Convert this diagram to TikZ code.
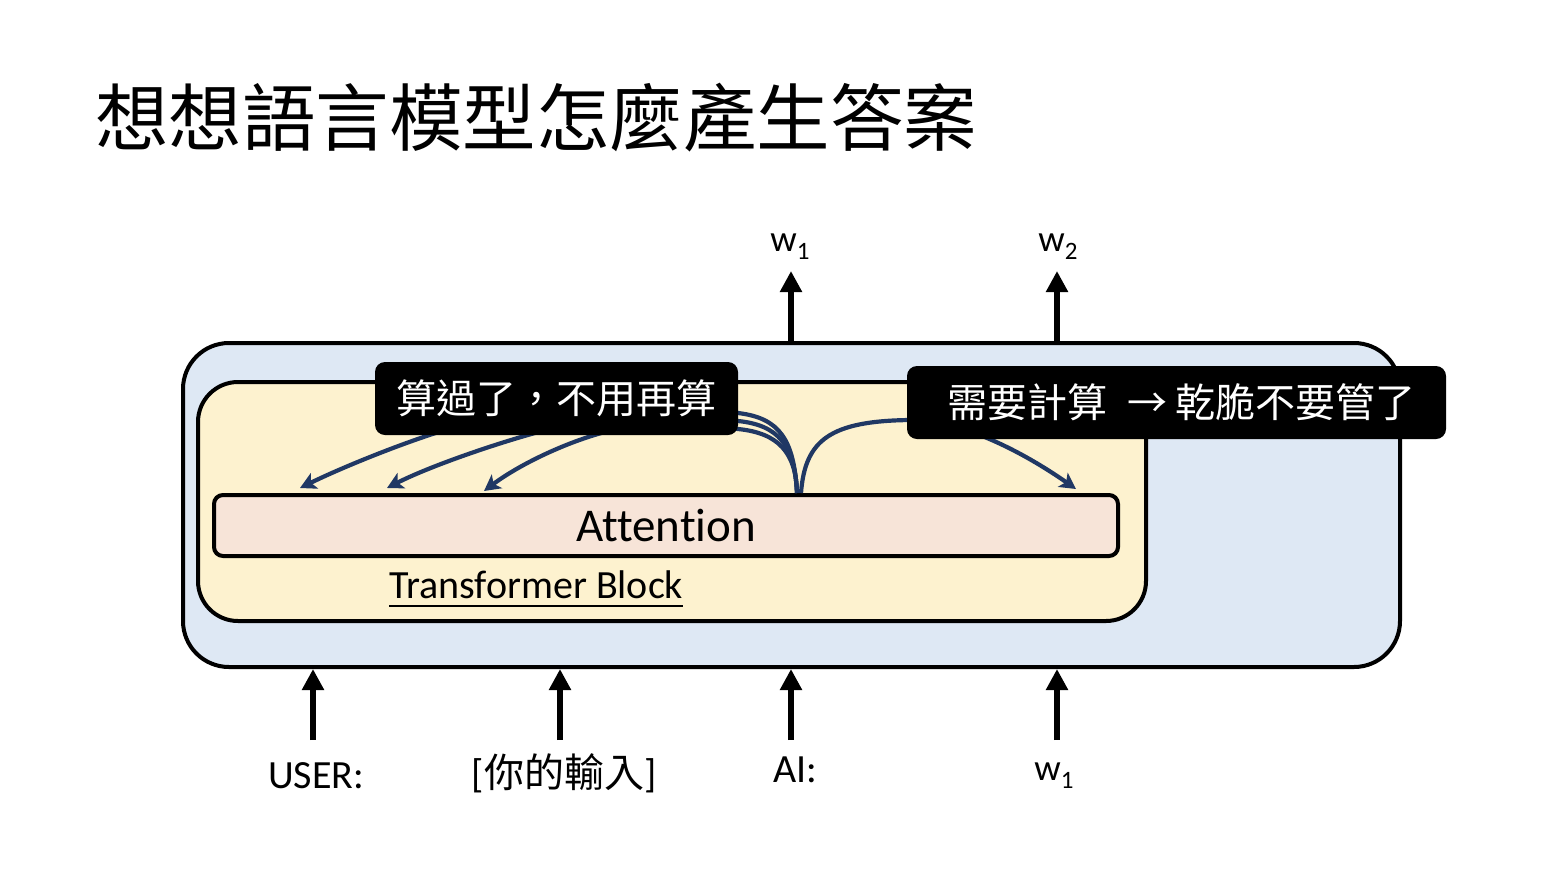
\documentclass[tikz,border=0pt]{standalone}
\usepackage{fontspec}
\setmainfont{Carlito}[Ligatures=NoCommon]
\newfontfamily\cjk{Noto Sans CJK TC}
\usetikzlibrary{arrows.meta}
\definecolor{outerblue}{HTML}{DEE8F4}
\definecolor{inneryellow}{HTML}{FDF2CF}
\definecolor{attfill}{HTML}{F7E4D8}
\definecolor{navy}{HTML}{203864}
\newcommand\wsub[1]{w\raisebox{-0.22em}{\fontsize{25}{25}\selectfont #1}}
\tikzset{
  box/.style={draw=black, line width=4pt, inner sep=0pt},
  callout/.style={fill=black, rounded corners=10pt, inner sep=0pt, text=white, font=\cjk\fontsize{40}{40}\selectfont},
  bigarrow/.style={line width=6pt, -{Triangle[width=21pt,length=21pt]}},
  attarrow/.style={draw=navy, line width=4.2pt, -{Stealth[width=17pt,length=16pt,inset=4pt]}},
  lbl/.style={font=\fontsize{40}{40}\selectfont, inner sep=0pt},
}
\begin{document}
\begin{tikzpicture}[x=1pt,y=-1pt]
\useasboundingbox[fill=white] (0,0) rectangle (1556,876);
% title
\node[anchor=west, inner sep=0pt, font=\cjk\fontsize{73.5}{73.5}\selectfont] (title) at (95,118) {想想語言模型怎麼產生答案};
% boxes
\node[box, fill=outerblue, rounded corners=46pt, minimum width=1217pt, minimum height=324pt] (outer) at (791.5,505) {};
\node[box, fill=inneryellow, rounded corners=40pt, minimum width=948pt, minimum height=239pt] (inner) at (672,501.5) {};
\node[box, fill=attfill, rounded corners=9pt, minimum width=904pt, minimum height=61pt, font=\fontsize{47}{47}\selectfont] (att) at (666,525.5) {Attention};
\node[anchor=base west, inner sep=0pt, font=\fontsize{40}{40}\selectfont] (tb) at (389,598) {Transformer Block};
\draw[line width=1.3pt] ([yshift=-8pt]tb.base west) -- ([yshift=-8pt]tb.base east);
% attention curves
\coordinate (src) at (797,493);
\coordinate (src2) at (801,493);
\coordinate (a1) at (300,488);
\coordinate (a2) at (387,488);
\coordinate (a3) at (484,491);
\coordinate (a4) at (1076,489);
\draw[attarrow] (src) .. controls (794,440) and (780,418) .. (738,413) .. controls (650,405) and (520,410) .. (452,428) .. controls (410,440) and (345,466) .. (a1);
\draw[attarrow] (src) .. controls (795,445) and (778,425) .. (738,421) .. controls (680,415) and (600,418) .. (546,430) .. controls (500,442) and (430,466) .. (a2);
\draw[attarrow] (src) .. controls (796,452) and (778,433) .. (738,429) .. controls (700,425) and (650,424) .. (613,430) .. controls (570,440) and (520,464) .. (a3);
\draw[attarrow] (src2) .. controls (805,440) and (830,421) .. (910,420) .. controls (960,420) and (1020,450) .. (a4);
% callouts
\node[callout, minimum width=363pt, minimum height=73pt] (c1) at (556.5,398.5) {算過了，不用再算};
\node[callout, minimum width=539pt, minimum height=73pt] (c2) at (1176.5,402.5) {};
\node[inner sep=0pt, text=white, font=\cjk\fontsize{40}{40}\selectfont] (c2t) at (1181,402.5) {需要計算\hspace{20pt}→\hspace{8pt}乾脆不要管了};
% top outputs
\node[lbl, font=\fontsize{37}{37}\selectfont] (o1) at (790,247) {\wsub{1}};
\node[lbl, font=\fontsize{37}{37}\selectfont] (o2) at (1058,247) {\wsub{2}};
\coordinate (o1t) at (791,271);
\coordinate (o2t) at (1057,271);
\draw[bigarrow] (o1t |- outer.north) -- (o1t);
\draw[bigarrow] (o2t |- outer.north) -- (o2t);
% bottom inputs
\node[lbl] (i1) at (316,776) {USER:};
\node[lbl] (i2) at (564,773) {[{\cjk 你的輸入}]};
\node[lbl] (i3) at (795,770) {AI:};
\node[lbl, font=\fontsize{37}{37}\selectfont] (i4) at (1054,776) {\wsub{1}};
\coordinate (b1) at (313,740);
\coordinate (b2) at (560,740);
\coordinate (b3) at (791,740);
\coordinate (b4) at (1057,740);
\draw[bigarrow] (b1) -- (b1 |- outer.south);
\draw[bigarrow] (b2) -- (b2 |- outer.south);
\draw[bigarrow] (b3) -- (b3 |- outer.south);
\draw[bigarrow] (b4) -- (b4 |- outer.south);
\end{tikzpicture}
\end{document}
